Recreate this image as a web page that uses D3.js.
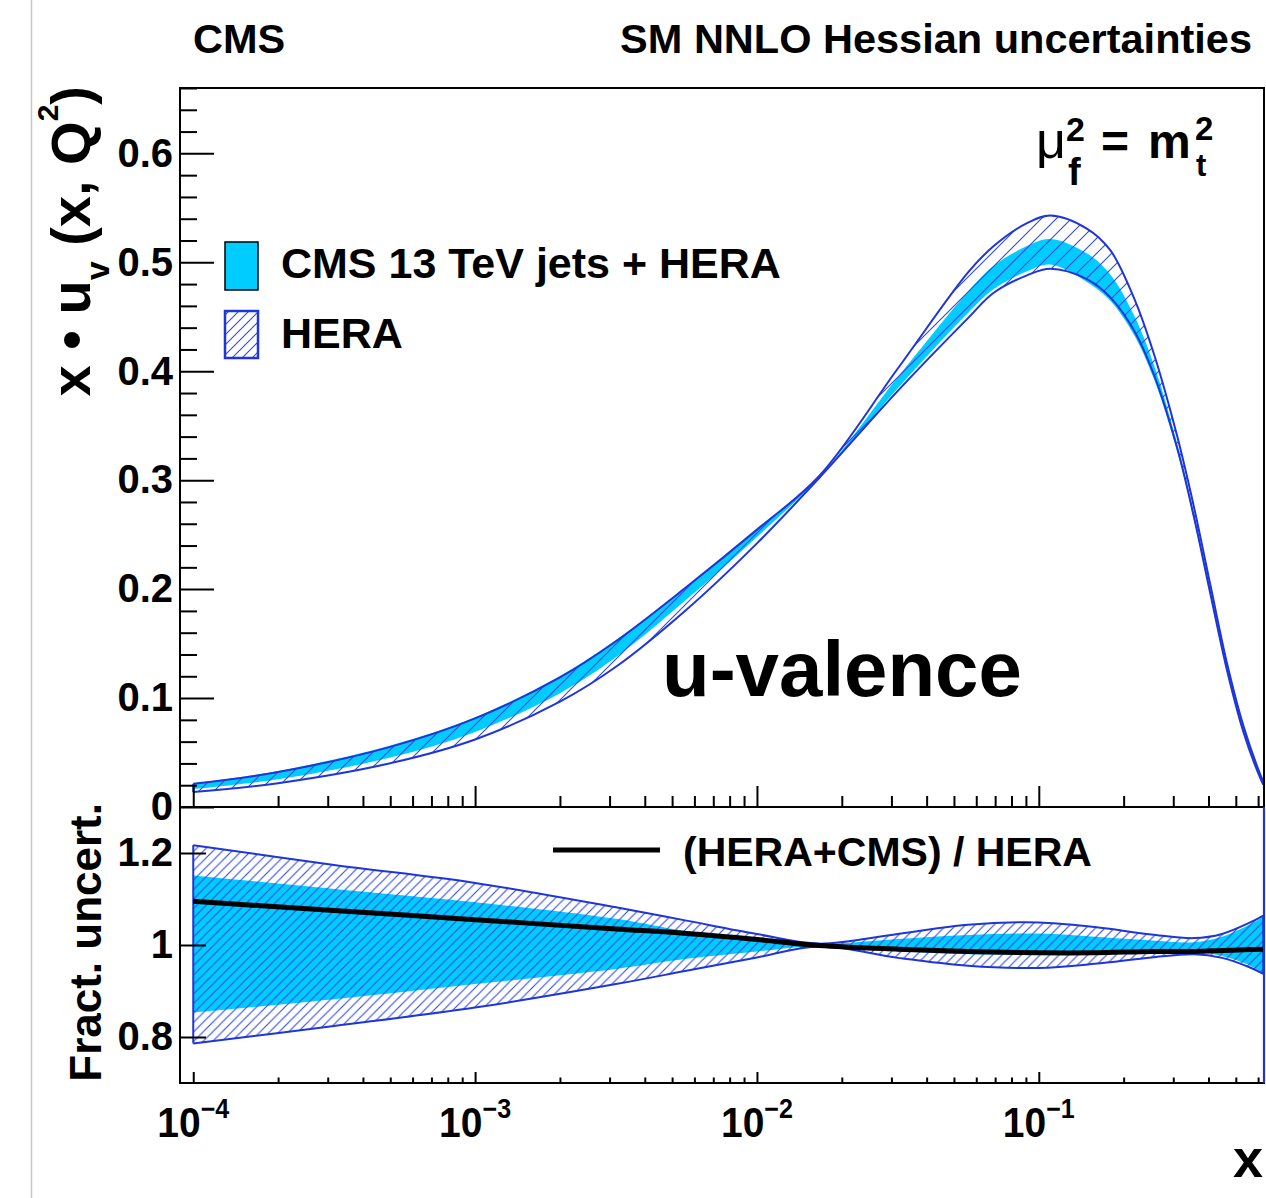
<!DOCTYPE html>
<html><head><meta charset="utf-8">
<script src="https://cdn.jsdelivr.net/npm/d3@7"></script>
<style>
html,body{margin:0;padding:0;background:#fff;}
svg{display:block;}
text{font-family:"Liberation Sans",Arial,Helvetica,sans-serif;font-weight:bold;fill:#000;}
</style></head><body>
<svg id="c" width="1266" height="1198"></svg>
<script>
// ---------- data ----------
const topX      = [1.0e-4,2.0e-4,5.0e-4,1.0e-3,2.0e-3,3.16e-3,5.62e-3,1.0e-2,1.66e-2,3.16e-2,5.62e-2,6.92e-2,9.08e-2,0.110,0.148,0.179,0.217,0.256,0.310,0.355,0.406,0.466,0.533,0.611,0.626];
const topHeraUp = [0.0213,0.0321,0.0552,0.0814,0.1189,0.1521,0.2019,0.2546,0.3036,0.4025,0.4910,0.5150,0.5360,0.5430,0.5310,0.5114,0.4680,0.4160,0.3400,0.2756,0.2040,0.1312,0.0738,0.0297,0.0234];
const topHeraDn = [0.0137,0.0219,0.0402,0.0620,0.0967,0.1287,0.1811,0.2420,0.3018,0.3820,0.4490,0.4720,0.4880,0.4940,0.4845,0.4680,0.4380,0.3970,0.3290,0.2664,0.1960,0.1248,0.0682,0.0263,0.0206];
const topCmsUp  = [0.0218,0.0331,0.0564,0.0823,0.1203,0.1532,0.2022,0.2547,0.3030,0.3946,0.4733,0.4968,0.5149,0.5214,0.5082,0.4891,0.4520,0.4060,0.3331,0.2699,0.2008,0.1293,0.0729,0.0295,0.0232];
const topCmsDn  = [0.0163,0.0254,0.0454,0.0689,0.1045,0.1374,0.1904,0.2479,0.3018,0.3844,0.4537,0.4754,0.4917,0.4980,0.4820,0.4650,0.4340,0.3930,0.3260,0.2640,0.1940,0.1237,0.0675,0.0261,0.0204];

const botX      = [1.0e-4,3.16e-4,1.0e-3,3.16e-3,5.62e-3,1.0e-2,1.66e-2,3.16e-2,5.62e-2,0.100,0.158,0.251,0.355,0.447,0.562,0.626];
const botHeraUp = [1.217,1.174,1.135,1.082,1.053,1.024,1.003,1.024,1.044,1.049,1.039,1.023,1.015,1.024,1.049,1.064];
const botHeraDn = [0.786,0.824,0.864,0.915,0.944,0.973,0.997,0.972,0.955,0.950,0.959,0.973,0.980,0.972,0.951,0.937];
const botCmsUp  = [1.151,1.122,1.093,1.057,1.030,1.013,1.002,1.013,1.022,1.025,1.018,1.010,1.006,1.018,1.045,1.062];
const botCmsDn  = [0.853,0.882,0.915,0.948,0.970,0.986,0.998,0.987,0.980,0.980,0.982,0.983,0.984,0.976,0.955,0.938];
const ratioLine = [1.095,1.075,1.055,1.035,1.025,1.012,0.999,0.991,0.986,0.983,0.983,0.986,0.986,0.988,0.990,0.991];

const xMajorTicks = [1e-4,1e-3,1e-2,1e-1];
const xTickExps   = ["\u22124","\u22123","\u22122","\u22121"];
const yTopTicks   = [0,0.1,0.2,0.3,0.4,0.5,0.6];
const yBotTicks   = [0.8,1.0,1.2];
const legendLabels = ["CMS 13 TeV jets + HERA","HERA"];

// ---------- layout ----------
const L=180, R=1264, T1=88, B1=807, T2=807, B2=1083;
const CYAN="#00ccff", BLUE="#1f35d8", HATCH="#2f48e4";
const svg=d3.select("#c");

const x=d3.scaleLog().domain([Math.pow(10,-4.047),Math.pow(10,-0.201)]).range([L,R]);
const yT=d3.scaleLinear().domain([0,0.66]).range([B1,T1]);
const yB=d3.scaleLinear().domain([0.7,1.3]).range([B2,T2]);

// page border line
svg.append("line").attr("x1",31.5).attr("x2",31.5).attr("y1",0).attr("y2",1198).attr("stroke","#c8c8c8").attr("stroke-width",1.5);

const defs=svg.append("defs");
function hatch(id,s){
  const p=defs.append("pattern").attr("id",id).attr("patternUnits","userSpaceOnUse").attr("width",s).attr("height",s);
  p.append("path").attr("d",`M0,${s} L${s},0 M${-s/2},${s/2} L${s/2},${-s/2} M${s/2},${s*1.5} L${s*1.5},${s/2}`)
   .attr("stroke",HATCH).attr("stroke-width",1.1).attr("fill","none");
}
hatch("hTop",15); hatch("hBot",9.5); hatch("hLeg",10);
defs.append("clipPath").attr("id","cTop").append("rect").attr("x",L).attr("y",T1).attr("width",R-L).attr("height",B1-T1);
defs.append("clipPath").attr("id","cBot").append("rect").attr("x",L).attr("y",T2).attr("width",R-L).attr("height",B2-T2);

const curve=d3.curveCatmullRom.alpha(0.5);
function band(xs,up,dn,ys){
  return d3.area().x((d,i)=>x(xs[i])).y0((d,i)=>ys(dn[i])).y1((d,i)=>ys(up[i])).curve(curve)(xs);
}
function lineOf(xs,vals,ys){
  return d3.line().x((d,i)=>x(xs[i])).y((d,i)=>ys(vals[i])).curve(curve)(xs);
}
function drawPanel(clip,xs,hu,hd,cu,cd,ys,pat){
  const g=svg.append("g").attr("clip-path",`url(#${clip})`);
  g.append("path").attr("d",band(xs,cu,cd,ys)).attr("fill",CYAN);
  g.append("path").attr("d",band(xs,hu,hd,ys)).attr("fill",`url(#${pat})`);
  [hu,hd].forEach(v=>g.append("path").attr("d",lineOf(xs,v,ys)).attr("fill","none").attr("stroke",BLUE).attr("stroke-width",2));
  const n=xs.length-1;
  [0,n].forEach(i=>g.append("line").attr("x1",x(xs[i])).attr("x2",x(xs[i])).attr("y1",ys(hu[i])).attr("y2",ys(hd[i])).attr("stroke",BLUE).attr("stroke-width",2));
  return g;
}
drawPanel("cTop",topX,topHeraUp,topHeraDn,topCmsUp,topCmsDn,yT,"hTop");
const gb=drawPanel("cBot",botX,botHeraUp,botHeraDn,botCmsUp,botCmsDn,yB,"hBot");
gb.append("path").attr("d",lineOf(botX,ratioLine,yB)).attr("fill","none").attr("stroke","#000").attr("stroke-width",5);

// ---------- frames ----------
svg.append("rect").attr("x",L).attr("y",T1).attr("width",R-L).attr("height",B1-T1).attr("fill","none").attr("stroke","#000").attr("stroke-width",2);
svg.append("rect").attr("x",L).attr("y",T2).attr("width",R-L).attr("height",B2-T2).attr("fill","none").attr("stroke","#000").attr("stroke-width",2);
svg.append("line").attr("x1",R).attr("x2",R).attr("y1",T2).attr("y2",B2).attr("stroke",BLUE).attr("stroke-width",2.2);

// ---------- axes ----------
const minorX=[];
[1e-4,1e-3,1e-2,1e-1].forEach(d=>{for(let k=2;k<=9;k++){const v=k*d; if(v<=x.domain()[1]) minorX.push(v);}});
const minorY=d3.range(0,0.661,0.02).filter(v=>Math.abs(v*10-Math.round(v*10))>1e-6);

function styleAxis(g){g.select(".domain").remove(); g.selectAll("line").attr("stroke","#000").attr("stroke-width",2);}
svg.append("g").attr("transform",`translate(0,${B1})`).call(d3.axisBottom(x).tickValues(xMajorTicks).tickSize(-21).tickFormat("")).call(styleAxis);
svg.append("g").attr("transform",`translate(0,${B1})`).call(d3.axisBottom(x).tickValues(minorX).tickSize(-11).tickFormat("")).call(styleAxis);
svg.append("g").attr("transform",`translate(0,${B2})`).call(d3.axisBottom(x).tickValues(xMajorTicks).tickSize(-11).tickFormat("")).call(styleAxis);
svg.append("g").attr("transform",`translate(0,${B2})`).call(d3.axisBottom(x).tickValues(minorX).tickSize(-5.5).tickFormat("")).call(styleAxis);
const ayT=svg.append("g").attr("transform",`translate(${L},0)`).call(d3.axisLeft(yT).tickValues(yTopTicks).tickSize(-34).tickPadding(7).tickFormat(d=>d===0?"0":d3.format(".1f")(d))).call(styleAxis);
svg.append("g").attr("transform",`translate(${L},0)`).call(d3.axisLeft(yT).tickValues(minorY).tickSize(-17).tickFormat("")).call(styleAxis);
const ayB=svg.append("g").attr("transform",`translate(${L},0)`).call(d3.axisLeft(yB).tickValues(yBotTicks).tickSize(-26).tickPadding(7).tickFormat(d=>d===1?"1":d3.format(".1f")(d))).call(styleAxis);
[ayT,ayB].forEach(g=>g.selectAll("text").attr("font-size",40).attr("fill","#000"));

// x tick labels
xMajorTicks.forEach((v,i)=>{
  const t=svg.append("text").attr("x",x(v)).attr("y",1137).attr("text-anchor","middle").attr("font-size",42)
    .attr("textLength",72).attr("lengthAdjust","spacingAndGlyphs");
  t.append("tspan").text("10");
  t.append("tspan").attr("font-size",27).attr("dy",-19).text(xTickExps[i]);
});
svg.append("text").attr("x",1263).attr("y",1177).attr("text-anchor","end").attr("font-size",54).text("x");

// y titles
const yl=svg.append("text").attr("transform","translate(90,86) rotate(-90)").attr("text-anchor","end").attr("font-size",56);
yl.append("tspan").text("x \u2022 u");
yl.append("tspan").attr("font-size",34).attr("dy",19).text("v");
yl.append("tspan").attr("dy",-19).text(" (x, Q");
yl.append("tspan").attr("font-size",30).attr("dy",-32).text("2");
yl.append("tspan").attr("dy",32).text(")");
svg.append("text").attr("transform","translate(101,803) rotate(-90)").attr("text-anchor","end").attr("font-size",44).text("Fract. uncert.");

// header
svg.append("text").attr("x",193).attr("y",53).attr("font-size",41.5).text("CMS");
svg.append("text").attr("x",1252).attr("y",53).attr("text-anchor","end").attr("font-size",41.5).text("SM NNLO Hessian uncertainties");

// mu_f^2 = m_t^2
svg.append("text").attr("x",1036).attr("y",158).attr("font-size",52).style("font-weight","normal").text("\u03bc");
svg.append("text").attr("x",1066).attr("y",141).attr("font-size",34).text("2");
svg.append("text").attr("x",1068).attr("y",185).attr("font-size",38).text("f");
svg.append("text").attr("x",1101).attr("y",158).attr("font-size",48).text("=");
svg.append("text").attr("x",1148).attr("y",158).attr("font-size",48).text("m");
svg.append("text").attr("x",1195).attr("y",140).attr("font-size",33).text("2");
svg.append("text").attr("x",1196).attr("y",176).attr("font-size",31).text("t");

// u-valence
svg.append("text").attr("x",662).attr("y",696).attr("font-size",78).text("u-valence");

// legend upper
svg.append("rect").attr("x",225).attr("y",242).attr("width",33).attr("height",48).attr("fill",CYAN).attr("stroke","#000").attr("stroke-width",1.5);
svg.append("rect").attr("x",225).attr("y",311).attr("width",33).attr("height",47).attr("fill","url(#hLeg)").attr("stroke",BLUE).attr("stroke-width",2.5);
svg.append("text").attr("x",281).attr("y",278).attr("font-size",43).text(legendLabels[0]);
svg.append("text").attr("x",281).attr("y",348).attr("font-size",43).text(legendLabels[1]);

// legend lower
svg.append("line").attr("x1",553).attr("x2",660).attr("y1",850).attr("y2",850).attr("stroke","#000").attr("stroke-width",5);
svg.append("text").attr("x",683).attr("y",866).attr("font-size",41).text("(HERA+CMS) / HERA");
</script>
</body></html>
